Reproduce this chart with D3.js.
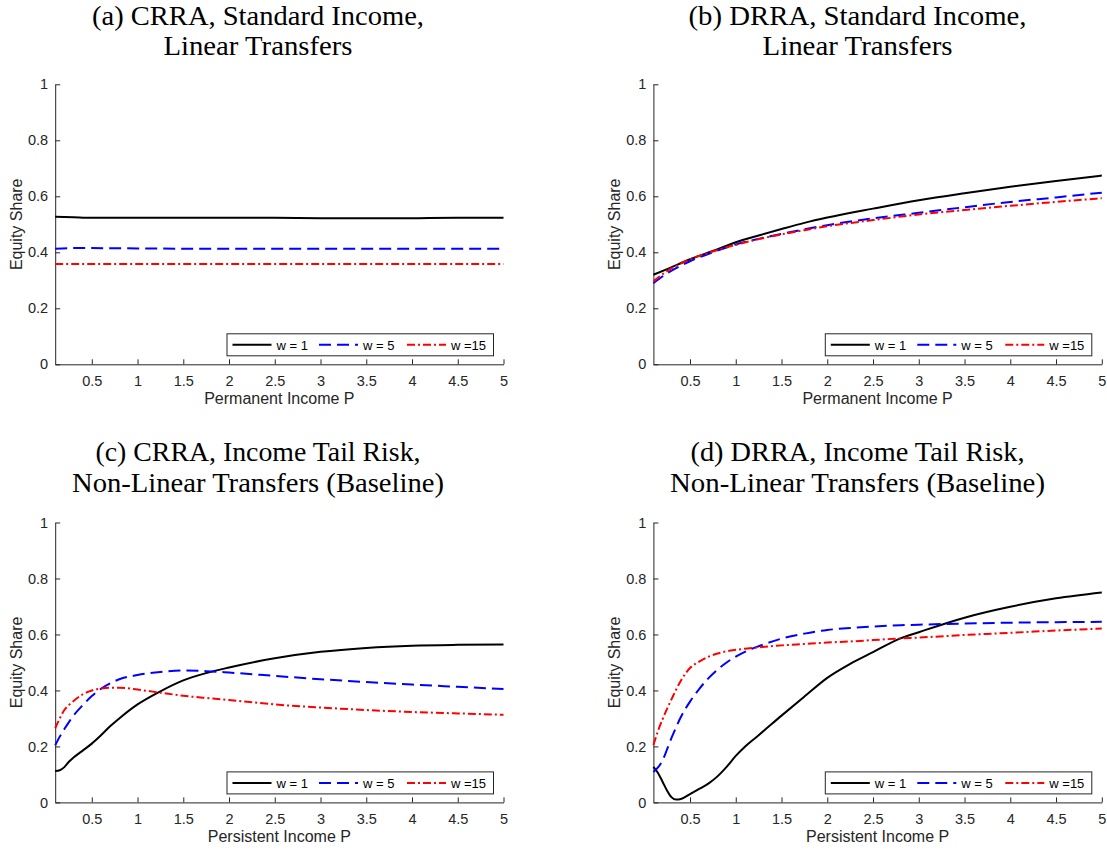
<!DOCTYPE html>
<html>
<head>
<meta charset="utf-8">
<script src="https://cdn.jsdelivr.net/npm/d3@7"></script>
<style>
  html, body { margin: 0; padding: 0; background: #fff; }
  svg { display: block; }
  .tick text { font-family: "Liberation Sans", Arial, sans-serif; font-size: 14.5px; fill: #262626; }
  .axis path, .axis line { stroke: #262626; stroke-width: 1; }
</style>
</head>
<body>
<svg id="chart" width="1107" height="850"></svg>
<script>
// Equity share vs. income, four model variants, three wealth levels each.

// Panel (a): CRRA, standard income, linear transfers
const gridA = [0.1, 0.3, 0.5, 1, 1.5, 2, 2.5, 3, 3.5, 4, 4.5, 5];
const aW1  = [0.527, 0.525, 0.523, 0.523, 0.523, 0.523, 0.523, 0.522, 0.522, 0.522, 0.523, 0.523];
const aW5  = [0.413, 0.415, 0.415, 0.414, 0.413, 0.413, 0.413, 0.413, 0.413, 0.413, 0.413, 0.413];
const aW15 = [0.358, 0.358, 0.358, 0.358, 0.358, 0.358, 0.358, 0.358, 0.358, 0.358, 0.358, 0.358];

// Panel (b): DRRA, standard income, linear transfers
const gridB = [0.1, 0.25, 0.5, 0.75, 1, 1.25, 1.5, 1.75, 2, 2.5, 3, 3.5, 4, 4.5, 5];
const bW1  = [0.320, 0.340, 0.375, 0.405, 0.436, 0.460, 0.483, 0.505, 0.524, 0.556, 0.586, 0.611, 0.634, 0.655, 0.674];
const bW5  = [0.290, 0.325, 0.368, 0.400, 0.428, 0.448, 0.466, 0.482, 0.497, 0.521, 0.541, 0.561, 0.580, 0.596, 0.613];
const bW15 = [0.297, 0.333, 0.375, 0.403, 0.427, 0.447, 0.464, 0.479, 0.493, 0.515, 0.535, 0.551, 0.566, 0.580, 0.593];

// Panel (c): CRRA, income tail risk, non-linear transfers
const gridC = [0.1, 0.15, 0.2, 0.25, 0.3, 0.4, 0.5, 0.6, 0.7, 0.8, 1, 1.25, 1.5, 1.75, 2, 2.5, 3, 3.5, 4, 4.5, 5];
const cW1  = [0.112, 0.115, 0.126, 0.145, 0.160, 0.185, 0.210, 0.240, 0.272, 0.300, 0.350, 0.397, 0.436, 0.462, 0.482, 0.515, 0.538, 0.552, 0.560, 0.563, 0.564];
const cW5  = [0.204, 0.235, 0.262, 0.287, 0.310, 0.347, 0.380, 0.406, 0.425, 0.440, 0.455, 0.466, 0.471, 0.469, 0.464, 0.452, 0.440, 0.430, 0.421, 0.413, 0.405];
const cW15 = [0.265, 0.300, 0.330, 0.348, 0.362, 0.386, 0.400, 0.407, 0.410, 0.410, 0.403, 0.392, 0.381, 0.373, 0.366, 0.350, 0.339, 0.330, 0.323, 0.318, 0.313];

// Panel (d): DRRA, income tail risk, non-linear transfers
const gridD = [0.1, 0.15, 0.2, 0.25, 0.3, 0.35, 0.4, 0.5, 0.6, 0.7, 0.8, 0.9, 1, 1.1, 1.25, 1.5, 1.75, 2, 2.25, 2.5, 2.8, 3, 3.5, 4, 4.5, 5];
const dW1  = [0.127, 0.105, 0.074, 0.042, 0.018, 0.010, 0.012, 0.030, 0.048, 0.067, 0.093, 0.127, 0.166, 0.199, 0.240, 0.310, 0.378, 0.445, 0.495, 0.537, 0.586, 0.608, 0.660, 0.699, 0.729, 0.750];
const dW5  = [0.109, 0.125, 0.150, 0.190, 0.232, 0.270, 0.305, 0.360, 0.405, 0.443, 0.474, 0.500, 0.521, 0.538, 0.558, 0.585, 0.603, 0.616, 0.623, 0.628, 0.633, 0.635, 0.639, 0.642, 0.644, 0.645];
const dW15 = [0.205, 0.255, 0.297, 0.335, 0.370, 0.404, 0.435, 0.480, 0.503, 0.520, 0.532, 0.540, 0.545, 0.549, 0.554, 0.561, 0.566, 0.571, 0.575, 0.580, 0.586, 0.589, 0.598, 0.606, 0.614, 0.621];

// Shared labels and ticks
const seriesNames = ["w = 1", "w = 5", "w =15"];
const xTicks = [0.5, 1, 1.5, 2, 2.5, 3, 3.5, 4, 4.5, 5];
const yTicks = [0, 0.2, 0.4, 0.6, 0.8, 1];
const xDomain = [0.1, 5];
const yDomain = [0, 1];
const yLabel = "Equity Share";

const panels = [
  { title: ["(a) CRRA, Standard Income,", "Linear Transfers"], titleW: [332, 189],
    xLabel: "Permanent Income P", grid: gridA, series: [aW1, aW5, aW15] },
  { title: ["(b) DRRA, Standard Income,", "Linear Transfers"], titleW: [338, 190],
    xLabel: "Permanent Income P", grid: gridB, series: [bW1, bW5, bW15] },
  { title: ["(c) CRRA, Income Tail Risk,", "Non-Linear Transfers (Baseline)"], titleW: [325, 372],
    xLabel: "Persistent Income P", grid: gridC, series: [cW1, cW5, cW15] },
  { title: ["(d) DRRA, Income Tail Risk,", "Non-Linear Transfers (Baseline)"], titleW: [334, 375],
    xLabel: "Persistent Income P", grid: gridD, series: [dW1, dW5, dW15] }
];

// Styling for the three wealth levels
const styles = [
  { color: "#000000", dash: null },
  { color: "#0000ff", dash: "12,6" },
  { color: "#ff0000", dash: "8,3,2,3" }
];

// Plot-area frames (left/right columns, top/bottom rows)
const cols = [{ x0: 55.2, x1: 503.5, titleX: 258 }, { x0: 653.4, x1: 1101.8, titleX: 857.5 }];
const rows = [{ y0: 364.3, y1: 84.3, titleY: 24.5 }, { y0: 802.4, y1: 522.5, titleY: 461 }];

const svg = d3.select("#chart");

panels.forEach((p, i) => {
  const col = cols[i % 2], row = rows[Math.floor(i / 2)];
  const x = d3.scaleLinear().domain(xDomain).range([col.x0, col.x1]);
  const y = d3.scaleLinear().domain(yDomain).range([row.y0, row.y1]);
  const g = svg.append("g");

  // Title (two lines, serif)
  p.title.forEach((t, k) => {
    g.append("text")
      .attr("x", col.titleX)
      .attr("y", row.titleY + k * 30.5)
      .attr("text-anchor", "middle")
      .attr("textLength", p.titleW[k])
      .attr("lengthAdjust", "spacingAndGlyphs")
      .style("font-family", "'Liberation Serif', 'Times New Roman', serif")
      .style("font-size", "27px")
      .style("fill", "#000")
      .text(t);
  });

  // Axes with inward ticks
  g.append("g").attr("class", "axis")
    .attr("transform", `translate(0,${row.y0})`)
    .call(d3.axisBottom(x).tickValues(xTicks).tickFormat(d3.format("~g"))
      .tickSizeInner(-5).tickSizeOuter(0).tickPadding(11));

  g.append("g").attr("class", "axis")
    .attr("transform", `translate(${col.x0},0)`)
    .call(d3.axisLeft(y).tickValues(yTicks).tickFormat(d3.format("~g"))
      .tickSizeInner(-5).tickSizeOuter(0).tickPadding(7));

  // Axis labels
  g.append("text")
    .attr("x", (col.x0 + col.x1) / 2)
    .attr("y", row.y0 + 40)
    .attr("text-anchor", "middle")
    .style("font-family", "'Liberation Sans', Arial, sans-serif")
    .style("font-size", "16px")
    .style("fill", "#262626")
    .text(p.xLabel);

  g.append("text")
    .attr("transform", `translate(${col.x0 - 33},${(row.y0 + row.y1) / 2}) rotate(-90)`)
    .attr("text-anchor", "middle")
    .style("font-family", "'Liberation Sans', Arial, sans-serif")
    .style("font-size", "16px")
    .style("fill", "#262626")
    .text(yLabel);

  // Curves
  const line = d3.line()
    .x(d => x(d[0]))
    .y(d => y(d[1]))
    .curve(d3.curveMonotoneX);

  p.series.forEach((vals, s) => {
    const pts = p.grid.map((gx, j) => [gx, vals[j]]);
    g.append("path")
      .datum(pts)
      .attr("d", line)
      .attr("fill", "none")
      .attr("stroke", styles[s].color)
      .attr("stroke-width", 2)
      .attr("stroke-dasharray", styles[s].dash);
  });

  // Legend box in the lower right corner
  const lw = 266.5, lh = 22;
  const lx = col.x1 - 10.5 - lw, ly = row.y0 - 31;
  const lg = g.append("g").attr("transform", `translate(${lx},${ly})`);
  lg.append("rect")
    .attr("x", 0.5).attr("y", 0.5)
    .attr("width", lw).attr("height", lh)
    .attr("fill", "#fff").attr("stroke", "#262626").attr("stroke-width", 1);
  const itemX = [6, 92.5, 180.5];
  seriesNames.forEach((name, s) => {
    lg.append("line")
      .attr("x1", itemX[s]).attr("x2", itemX[s] + 39)
      .attr("y1", lh / 2 + 0.5).attr("y2", lh / 2 + 0.5)
      .attr("stroke", styles[s].color)
      .attr("stroke-width", 2)
      .attr("stroke-dasharray", styles[s].dash);
    lg.append("text")
      .attr("x", itemX[s] + 44)
      .attr("y", lh / 2 + 5.5)
      .style("font-family", "'Liberation Sans', Arial, sans-serif")
      .style("font-size", "13px")
      .style("fill", "#000")
      .text(name);
  });
});
</script>
</body>
</html>
